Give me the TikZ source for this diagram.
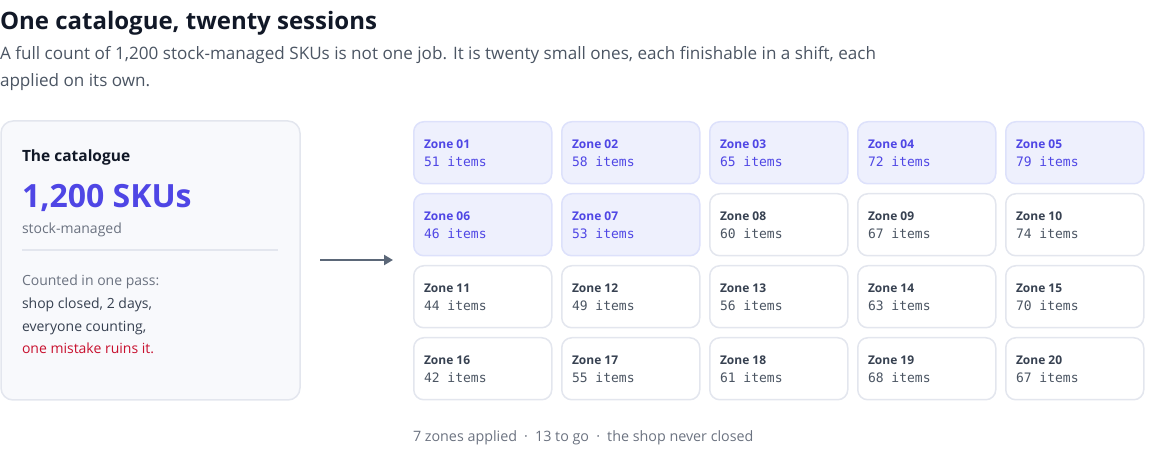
\documentclass[tikz,border=0pt]{standalone}
\usepackage{fontspec}
\setmainfont{Open Sans}
\setmonofont{DejaVu Sans Mono}
\usetikzlibrary{arrows.meta}

\definecolor{ink}{HTML}{111827}
\definecolor{body}{HTML}{4B5563}
\definecolor{muted}{HTML}{6B7280}
\definecolor{dark}{HTML}{374151}
\definecolor{indigo}{HTML}{4F46E5}
\definecolor{alarm}{HTML}{C8102E}
\definecolor{cardbg}{HTML}{F8F9FC}
\definecolor{cardline}{HTML}{E3E6EE}
\definecolor{donebg}{HTML}{EEF0FD}
\definecolor{doneline}{HTML}{DDE1FB}
\definecolor{arrowgray}{HTML}{5B6778}

\tikzset{
    txt/.style={anchor=base west, inner sep=0pt, outer sep=0pt},
    card/.style={draw=cardline, line width=1.5pt, fill=cardbg, rounded corners=12pt},
    cell/.style={line width=1.5pt, rounded corners=10pt, anchor=north west,
        minimum width=138pt, minimum height=62pt, inner sep=0pt},
    done/.style={cell, draw=doneline, fill=donebg},
    todo/.style={cell, draw=cardline, fill=white},
    donetxt/.style={text=indigo},
    todotxt/.style={text=dark},
    donenum/.style={text=indigo},
    todonum/.style={text=body},
}

\begin{document}
\begin{tikzpicture}[x=1pt, y=-1pt]
    \useasboundingbox (0,0) rectangle (1160,470);

    % heading
    \node[txt, text=ink, font=\fontsize{24}{28}\selectfont\bfseries] (title) at (0,30) {One catalogue, twenty sessions};
    \node[txt, text=body, font=\fontsize{17.1}{20}\selectfont] (sub1) at (0,60)
        {A full count of 1,200 stock-managed SKUs is not one job. It is twenty small ones, each finishable in a shift, each};
    \node[txt, text=body, font=\fontsize{17.1}{20}\selectfont] (sub2) at (0,87) {applied on its own.};

    % the catalogue card
    \draw[card] (1,121) rectangle (300,400);
    \node[txt, text=ink, font=\fontsize{15.5}{18}\selectfont\bfseries] (cat) at (22,162) {The catalogue};
    \node[txt, text=indigo, font=\fontsize{32}{36}\selectfont\bfseries] (skus) at (22,208) {1,200 SKUs};
    \node[txt, text=muted, font=\fontsize{14}{17}\selectfont] (kind) at (22,234) {stock-managed};
    \draw[cardline, line width=1.5pt] (22,250) -- (278,250);
    \node[txt, text=muted, font=\fontsize{14}{17}\selectfont] (pass) at (22,286) {Counted in one pass:};
    \node[txt, text=dark, font=\fontsize{14}{17}\selectfont] (closed) at (22,309) {shop closed, 2 days,};
    \node[txt, text=dark, font=\fontsize{14}{17}\selectfont] (everyone) at (22,332) {everyone counting,};
    \node[txt, text=alarm, font=\fontsize{14}{17}\selectfont] (ruins) at (22,354) {one mistake ruins it.};

    % split arrow
    \coordinate (from) at (320,260);
    \coordinate (to) at (393,260);
    \draw[arrowgray, line width=2.2pt, -{Triangle[length=9pt,width=10pt]}] (from) -- (to);

    % twenty zones, first seven applied
    \foreach \items [count=\i from 0] in {51,58,65,72,79,46,53,60,67,74,44,49,56,63,70,42,55,61,68,67} {
        \pgfmathtruncatemacro\row{\i/5}
        \pgfmathtruncatemacro\col{mod(\i,5)}
        \pgfmathtruncatemacro\z{\i+1}
        \ifnum\i<7 \def\st{done}\else\def\st{todo}\fi
        \node[\st] (zone\z) at (413+148*\col, 121+72*\row) {};
        \node[txt, \st txt, font=\fontsize{12}{14}\selectfont\bfseries] (zone\z-name)
            at ([xshift=11pt, yshift=-27.5pt]zone\z.north west) {Zone \ifnum\z<10 0\fi\z};
        \node[txt, \st num, font=\fontsize{13}{15}\selectfont\ttfamily] (zone\z-count)
            at ([xshift=11pt, yshift=-45.5pt]zone\z.north west) {\items{} items};
    }

    % footer
    \node[txt, text=muted, font=\fontsize{14.3}{17}\selectfont] (status) at (413,441)
        {7 zones applied\enspace·\enspace13 to go\enspace·\enspace the shop never closed};
\end{tikzpicture}
\end{document}
